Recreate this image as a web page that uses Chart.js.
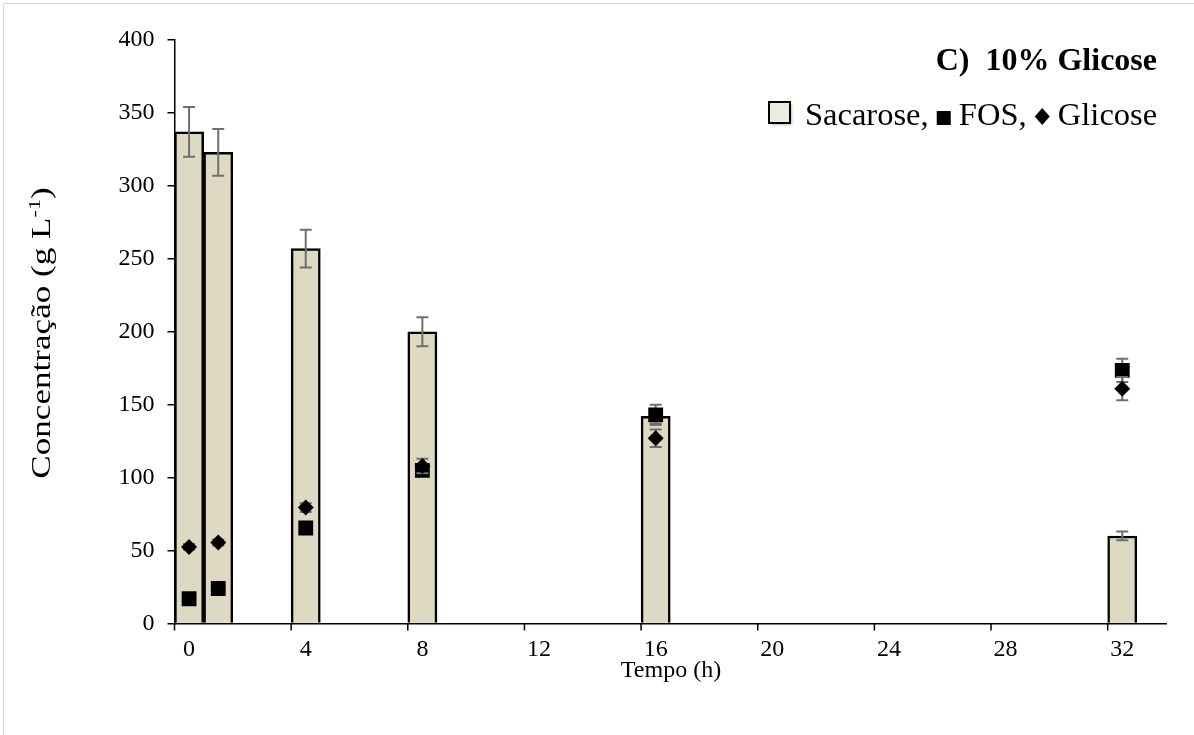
<!DOCTYPE html>
<html><head><meta charset="utf-8">
<script src="https://cdn.jsdelivr.net/npm/chart.js@4"></script>
<style>html,body{margin:0;padding:0;background:#fff}</style>
</head><body>
<canvas id="c" width="1194" height="735"></canvas>
<script>
const times = [0, 1, 4, 8, 16, 32];
const sacarose = [337, 323, 257, 200, 142, 60];
const sacaroseErr = [17, 16, 13, 10, 5, 3];
const fos = [17, 24, 65.5, 105, 143, 173.5];
const fosErr = [2, 2, 2, 3, 7, 8];
const glicose = [52.5, 55.5, 79.5, 108, 127, 161];
const glicoseErr = [2, 2, 3, 5, 6, 8];
const xTickValues = [0, 4, 8, 12, 16, 20, 24, 28, 32];
const yTickValues = [0, 50, 100, 150, 200, 250, 300, 350, 400];
const titleText = 'C)  10% Glicose';
const xTitle = 'Tempo (h)';
const yTitleMain = 'Concentração (g L';
const yTitleSup = '-1';
const yTitleEnd = ')';
const legendNames = ['Sacarose,', 'FOS,', 'Glicose'];

const FONT = "'Liberation Serif', 'Times New Roman', serif";
const toPts = (vals) => times.map((t, i) => ({ x: t, y: vals[i] }));

const errorBars = {
  id: 'errorBars',
  drawErr(chart, idx) {
    const ds = chart.data.datasets[idx];
    if (!ds.errors) return;
    const meta = chart.getDatasetMeta(idx);
    const ys = chart.scales.y;
    const ctx = chart.ctx;
    ctx.save();
    ctx.strokeStyle = '#6f6f6f';
    ctx.lineWidth = 2;
    meta.data.forEach((el, i) => {
      const v = ds.data[i].y, e = ds.errors[i];
      const x = el.x;
      const yt = ys.getPixelForValue(v + e), yb = ys.getPixelForValue(v - e);
      ctx.beginPath();
      ctx.moveTo(x, yt); ctx.lineTo(x, yb);
      ctx.moveTo(x - 6, yt); ctx.lineTo(x + 6, yt);
      ctx.moveTo(x - 6, yb); ctx.lineTo(x + 6, yb);
      ctx.stroke();
    });
    ctx.restore();
  },
  beforeDatasetDraw(chart, args) {
    if (chart.data.datasets[args.index].type !== 'bar') this.drawErr(chart, args.index);
  },
  afterDatasetDraw(chart, args) {
    if (chart.data.datasets[args.index].type === 'bar') this.drawErr(chart, args.index);
  }
};

const decor = {
  id: 'decor',
  afterDraw(chart) {
    const ctx = chart.ctx;
    const xs = chart.scales.x;
    const ca = chart.chartArea;
    ctx.save();
    // frame
    ctx.strokeStyle = '#d9d9d9';
    ctx.lineWidth = 1;
    ctx.beginPath();
    ctx.moveTo(3.5, 740); ctx.lineTo(3.5, 3.5); ctx.lineTo(1194, 3.5);
    ctx.stroke();
    // x tick marks at category boundaries
    ctx.strokeStyle = '#000';
    ctx.lineWidth = 1.5;
    ctx.beginPath();
    xTickValues.forEach(v => {
      const px = xs.getPixelForValue(v - 0.5);
      ctx.moveTo(px, ca.bottom); ctx.lineTo(px, ca.bottom + 7);
    });
    ctx.stroke();
    ctx.fillStyle = '#000';
    // x title
    ctx.font = '24px ' + FONT;
    ctx.textAlign = 'center';
    ctx.textBaseline = 'alphabetic';
    ctx.fillText(xTitle, 671, 677);
    // y title rotated
    ctx.save();
    ctx.translate(50, 333);
    ctx.rotate(-Math.PI / 2);
    ctx.scale(1.3, 1);
    ctx.textAlign = 'left';
    const f1 = '27px ' + FONT, f2 = '17px ' + FONT;
    ctx.font = f1; const w1 = ctx.measureText(yTitleMain).width; const w3 = ctx.measureText(yTitleEnd).width;
    ctx.font = f2; const w2 = ctx.measureText(yTitleSup).width;
    let x0 = -(w1 + w2 + w3) / 2;
    ctx.font = f1; ctx.fillText(yTitleMain, x0, 0);
    ctx.font = f2; ctx.fillText(yTitleSup, x0 + w1, -10);
    ctx.font = f1; ctx.fillText(yTitleEnd, x0 + w1 + w2, 0);
    ctx.restore();
    // title
    ctx.font = 'bold 32px ' + FONT;
    ctx.textAlign = 'right';
    ctx.fillText(titleText, 1157, 70);
    // legend
    ctx.save();
    ctx.shadowColor = 'rgba(0,0,0,0.35)';
    ctx.shadowBlur = 3; ctx.shadowOffsetX = 1.5; ctx.shadowOffsetY = 1.5;
    ctx.fillStyle = '#eeece1';
    ctx.fillRect(769, 102, 21, 21);
    ctx.restore();
    ctx.strokeStyle = '#000'; ctx.lineWidth = 2;
    ctx.strokeRect(769, 102, 21, 21);
    ctx.font = '32.5px ' + FONT;
    ctx.textAlign = 'left';
    ctx.fillStyle = '#000';
    const base = 125;
    const sp = ctx.measureText(' ').width;
    let x = 805;
    ctx.fillText(legendNames[0], x, base);
    x += ctx.measureText(legendNames[0]).width + sp;
    ctx.fillRect(x, base - 14, 14, 14);
    x += 14 + sp;
    ctx.fillText(legendNames[1], x, base);
    x += ctx.measureText(legendNames[1]).width + sp;
    ctx.beginPath();
    ctx.moveTo(x + 7.5, base - 17); ctx.lineTo(x + 15, base - 8.5);
    ctx.lineTo(x + 7.5, base); ctx.lineTo(x, base - 8.5); ctx.closePath(); ctx.fill();
    x += 15 + sp;
    ctx.fillText(legendNames[2], x, base);
    ctx.restore();
  }
};

new Chart(document.getElementById('c'), {
  data: {
    datasets: [
      { type: 'bar', label: 'Sacarose', data: toPts(sacarose), errors: sacaroseErr,
        backgroundColor: '#ddd9c3', borderColor: '#000', borderWidth: 2.5,
        barPercentage: 1, categoryPercentage: 1, order: 3 },
      { type: 'scatter', label: 'FOS', data: toPts(fos), errors: fosErr,
        pointStyle: 'rect', pointRadius: 10.5, backgroundColor: '#000', borderColor: '#000',
        borderWidth: 0, order: 2 },
      { type: 'scatter', label: 'Glicose', data: toPts(glicose), errors: glicoseErr,
        pointStyle: 'rectRot', pointRadius: 8, backgroundColor: '#000', borderColor: '#000',
        borderWidth: 0, order: 1 }
    ]
  },
  options: {
    responsive: false,
    animation: false,
    events: [],
    layout: { padding: { left: 0, right: 28, top: 40, bottom: 0 } },
    plugins: { legend: { display: false }, tooltip: { enabled: false }, title: { display: false } },
    scales: {
      x: {
        type: 'linear', min: -0.5, max: 33.5, offset: false,
        afterBuildTicks: (s) => { s.ticks = xTickValues.map(v => ({ value: v })); },
        afterFit: (s) => { s.height = 111.5; },
        grid: { display: true, drawOnChartArea: false, drawTicks: false, offset: false },
        border: { display: true, color: '#000', width: 1.5 },
        ticks: { color: '#000', font: { family: FONT, size: 24 }, padding: 12, maxRotation: 0, autoSkip: false }
      },
      y: {
        min: 0, max: 400,
        afterBuildTicks: (s) => { s.ticks = yTickValues.map(v => ({ value: v })); },
        afterFit: (s) => { s.width = 174.5; },
        grid: { drawOnChartArea: false, drawTicks: true, tickLength: 7, color: '#000', lineWidth: 1.5 },
        border: { display: true, color: '#000', width: 1.5 },
        ticks: { color: '#000', font: { family: FONT, size: 24 }, padding: 13 }
      }
    }
  },
  plugins: [errorBars, decor]
});
</script>
</body></html>
